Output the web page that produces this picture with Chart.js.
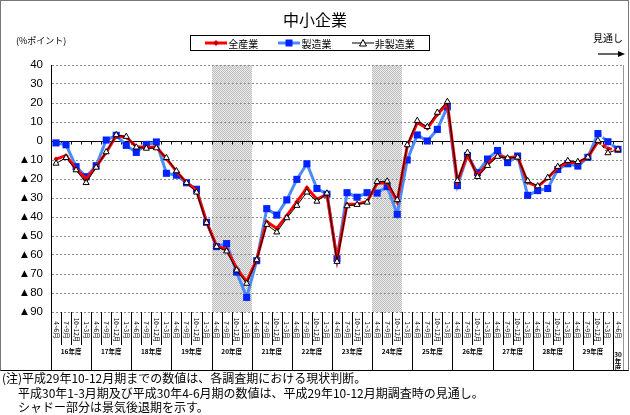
<!DOCTYPE html>
<html>
<head>
<meta charset="utf-8">
<script src="https://cdn.jsdelivr.net/npm/chart.js@4"></script>
<style>
  body { margin: 0; background: #fff; font-family: 'Noto Sans CJK JP', sans-serif; }
  #wrap { position: relative; width: 630px; height: 415px; }
  #frame { position: absolute; left: 0; top: 0; width: 627px; height: 369px; border: 1px solid #777; border-bottom-color: #000; pointer-events: none; }
  #myChart { position: absolute; left: 0; top: 0; }
  .txt { position: absolute; white-space: nowrap; color: #000; }
  #title { left: 0; width: 630px; text-align: center; top: 7px; font-size: 16px; }
  #unit { left: 16px; top: 34px; font-size: 9px; }
  #outlook { left: 593px; top: 30px; font-size: 10px; }
  #legend { position: absolute; left: 190px; top: 35px; width: 240px; height: 16px; border: 1px solid #000; font-size: 10px; display: flex; align-items: center; justify-content: space-around; padding: 0 4px; box-sizing: border-box; }
  #legend span { display: flex; align-items: center; }
  #legend svg { margin-right: 1px; }
  #notes { left: 2px; top: 371px; font-size: 12px; line-height: 14.5px; }
  #notes div.ind { padding-left: 16px; }
</style>
</head>
<body>
<div id="wrap">
  <canvas id="myChart" width="630" height="370"></canvas>
  <div id="frame"></div>
  <div class="txt" id="title">中小企業</div>
  <div class="txt" id="unit">(%ポイント)</div>
  <div class="txt" id="outlook">見通し</div>
  <svg style="position:absolute;left:598px;top:50px" width="28" height="8">
    <line x1="0" y1="4" x2="22" y2="4" stroke="#000" stroke-width="1.2"/>
    <polygon points="27,4 20,1 20,7" fill="#000"/>
  </svg>
  <div id="legend">
    <span><svg width="22" height="8"><line x1="0" y1="4" x2="22" y2="4" stroke="#f00" stroke-width="3"/><polygon points="11,1 14,4 11,7 8,4" fill="#c00"/></svg>全産業</span>
    <span><svg width="22" height="8"><line x1="0" y1="4" x2="22" y2="4" stroke="#4a8cf7" stroke-width="3"/><rect x="7.5" y="0.5" width="7" height="7" fill="#0022ff"/></svg>製造業</span>
    <span><svg width="22" height="8"><line x1="0" y1="4" x2="22" y2="4" stroke="#000" stroke-width="1"/><polygon points="11,0.5 14.5,7 7.5,7" fill="#fff" stroke="#000"/></svg>非製造業</span>
  </div>
  <div class="txt" id="notes">
    <div>(注)平成29年10-12月期までの数値は、各調査期における現状判断。</div>
    <div class="ind">平成30年1-3月期及び平成30年4-6月期の数値は、平成29年10-12月期調査時の見通し。</div>
    <div class="ind">シャドー部分は景気後退期を示す。</div>
  </div>
</div>

<script>
// Categories
const fiscalYears = ['16年度', '17年度', '18年度', '19年度', '20年度', '21年度', '22年度',
  '23年度', '24年度', '25年度', '26年度', '27年度', '28年度', '29年度', '30年度'];
const quarters = ['4~6月', '7~9月', '10~12月', '1~3月'];

const labels = [];
fiscalYears.forEach((y, j) => {
  const n = j === fiscalYears.length - 1 ? 1 : 4;   // 30年度 only 4-6月
  for (let q = 0; q < n; q++) labels.push(quarters[q]);
});

// Series (%ポイント)
const allIndustry = [-9.5, -7.7, -14.7, -20, -13.5, -6, 2.8, 2, -3, -3.3, -3.2, -9.3, -16, -21.8,
  -26, -42.5, -55.3, -57, -67, -74, -62.3, -42.5, -46, -39.3, -32, -24.6, -30.7, -28,
  -62.3, -33.3, -33.2, -32, -22.3, -22, -31.8, -2.6, 9.6, 6.7, 14, 19.8, -21.4, -7,
  -18.4, -12, -7.7, -8.8, -8.2, -21.8, -24, -19.6, -13.9, -11.2, -11.4, -8.6, -0.4, -3.9, -5.1];
const manufacturing = [-1, -2, -13.5, -18.8, -13, 0.5, 3, -2.3, -6, -1.8, -0.5, -17, -18, -22,
  -25.4, -42.8, -55.6, -54, -69, -82.3, -63, -35.6, -39, -31, -20.2, -12, -25, -28,
  -62, -27.2, -29.6, -27.2, -27.4, -24, -38.6, -10, 3.2, 0, 6.1, 18, -23.5, -7.7,
  -16.7, -9.5, -5, -11.4, -7.9, -28.6, -26.1, -25, -15, -12, -13.2, -8.6, 3.9, -0.4, -4.4];
const nonManufacturing = [-11.8, -8.8, -15.3, -22, -13.9, -5.8, 3.2, 2.3, -3.3, -3.9, -3.7, -8.8, -15.8, -22,
  -27, -43, -55.6, -58, -68, -75, -62.6, -44, -48, -40.5, -34, -27, -31.8, -27.5,
  -63.5, -34.2, -33.5, -32.3, -21.4, -21.2, -31, -2.1, 10.7, 7.5, 15, 20.7, -20.9, -6.1,
  -18.8, -13, -8.2, -9, -8.6, -21, -23.7, -19.3, -13.5, -10.4, -10.9, -8.6, 0.2, -6.3, -4.4];

// Recession shading (first and last category index)
const recessions = [[16, 19], [32, 34]];
// First forecast point (平成30年1-3月期)
const forecastFrom = 55;

const yMin = -90, yMax = 40, yStep = 10;

// dashed line for forecast part
const forecastDash = ctx => ctx.p1DataIndex >= forecastFrom ? [4, 2] : undefined;

function shadePattern(ctx) {
  const c = document.createElement('canvas');
  c.width = 2; c.height = 2;
  const p = c.getContext('2d');
  p.fillStyle = '#ececec'; p.fillRect(0, 0, 2, 2);
  p.fillStyle = '#bdbdbd'; p.fillRect(0, 0, 1, 1); p.fillRect(1, 1, 1, 1);
  return ctx.createPattern(c, 'repeat');
}

const crisp = v => Math.round(v) + 0.5;

const decorations = {
  id: 'decorations',
  beforeDraw(chart) {
    const { ctx, chartArea: a, scales: { x } } = chart;
    const w = x.getPixelForValue(1) - x.getPixelForValue(0);
    ctx.save();
    ctx.fillStyle = shadePattern(ctx);
    recessions.forEach(([s, e]) => {
      const x1 = Math.round(x.getPixelForValue(s) - w / 2);
      const x2 = Math.round(x.getPixelForValue(e) + w / 2);
      ctx.fillRect(x1, a.top, x2 - x1, a.bottom - a.top);
    });
    ctx.restore();
  },
  beforeDatasetsDraw(chart) {
    const { ctx, chartArea: a, scales: { x, y } } = chart;
    const w = x.getPixelForValue(1) - x.getPixelForValue(0);
    const y0 = crisp(y.getPixelForValue(0));
    ctx.save();
    ctx.strokeStyle = '#000';
    ctx.lineWidth = 1;
    ctx.beginPath();
    ctx.moveTo(a.left, y0);
    ctx.lineTo(a.right, y0);
    for (let i = 1; i < labels.length; i++) {
      const xb = crisp(x.getPixelForValue(i) - w / 2);
      ctx.moveTo(xb, y0);
      ctx.lineTo(xb, y0 + 3);
    }
    ctx.stroke();
    ctx.restore();
  },
  afterDraw(chart) {
    const { ctx, chartArea: a, scales: { x } } = chart;
    const w = x.getPixelForValue(1) - x.getPixelForValue(0);
    const frameBottom = chart.height;
    ctx.save();
    ctx.lineWidth = 1;
    ctx.strokeStyle = '#000';
    ctx.beginPath();
    // left axis runs down through the label area
    ctx.moveTo(crisp(a.left - 0.5), a.top);
    ctx.lineTo(crisp(a.left - 0.5), frameBottom);
    for (let i = 1; i < labels.length; i++) {
      const xb = crisp(x.getPixelForValue(i) - w / 2);
      const yearEdge = labels[i] === quarters[0];
      ctx.moveTo(xb, a.bottom);
      ctx.lineTo(xb, yearEdge ? frameBottom : a.bottom + 33);
    }
    ctx.stroke();
    // right edge
    ctx.strokeStyle = '#999';
    ctx.beginPath();
    ctx.moveTo(crisp(a.right), a.top);
    ctx.lineTo(crisp(a.right), frameBottom);
    ctx.stroke();

    // quarter labels (vertical)
    ctx.fillStyle = '#000';
    ctx.font = "6.5px 'Noto Sans CJK JP'";
    ctx.textAlign = 'center';
    ctx.textBaseline = 'middle';
    labels.forEach((lab, i) => {
      ctx.save();
      ctx.translate(x.getPixelForValue(i), a.bottom + 18);
      ctx.rotate(Math.PI / 2);
      ctx.fillText(lab, 0, 0);
      ctx.restore();
    });

    // fiscal year labels
    ctx.font = "bold 6.5px 'Noto Sans CJK JP'";
    let k = 0;
    fiscalYears.forEach((yr, j) => {
      const n = j === fiscalYears.length - 1 ? 1 : 4;
      const first = k, last = k + n - 1;
      k += n;
      const cx = (x.getPixelForValue(first) + x.getPixelForValue(last)) / 2;
      if (n === 1) {
        // narrow column: stack the label
        ctx.fillText(yr.slice(0, 2), cx, a.bottom + 43);
        ctx.fillText(yr.slice(2, 3), cx, a.bottom + 50);
        ctx.fillText(yr.slice(3), cx, a.bottom + 57);
      } else {
        ctx.fillText(yr, cx, a.bottom + 40);
      }
    });
    ctx.restore();
  }
};

const data = {
  labels: labels,
  datasets: [{
    label: '全産業',
    data: allIndustry,
    borderColor: '#ff0000',
    backgroundColor: '#cc0000',
    borderWidth: 3,
    pointStyle: 'rectRot',
    pointRadius: 2.5,
    pointBorderWidth: 0,
    segment: { borderDash: forecastDash },
    order: 1
  }, {
    label: '製造業',
    data: manufacturing,
    borderColor: '#4a8cf7',
    backgroundColor: '#0022ff',
    pointBorderColor: '#0022ff',
    borderWidth: 3,
    pointStyle: 'rect',
    pointRadius: 5,
    pointBorderWidth: 0,
    segment: { borderDash: forecastDash },
    order: 2
  }, {
    label: '非製造業',
    data: nonManufacturing,
    borderColor: '#000000',
    backgroundColor: '#ffffff',
    pointBorderColor: '#000000',
    borderWidth: 1,
    pointStyle: 'triangle',
    pointRadius: 3.5,
    pointBorderWidth: 1,
    segment: { borderDash: forecastDash },
    order: 0
  }]
};

const config = {
  type: 'line',
  data: data,
  plugins: [decorations],
  options: {
    responsive: false,
    animation: false,
    layout: { padding: { left: 0, right: 7, top: 65, bottom: 58 } },
    plugins: {
      legend: { display: false },
      tooltip: { enabled: false }
    },
    elements: { line: { tension: 0 } },
    scales: {
      x: {
        display: false,
        offset: true
      },
      y: {
        min: yMin,
        max: yMax,
        afterFit: scale => { scale.width = 51; },
        grid: {
          color: ctx => ctx.tick && ctx.tick.value === 0 ? 'rgba(0,0,0,0)' : '#8c8c8c',
          drawTicks: false,
          lineWidth: 1
        },
        border: { display: true, color: '#000', width: 1, dash: [2, 2] },
        ticks: {
          stepSize: yStep,
          padding: 8,
          color: '#000',
          font: { family: "'Liberation Sans', 'DejaVu Sans'", size: 11.5 },
          callback: v => v < 0 ? '▲' + (-v) : String(v)
        }
      }
    }
  }
};

const myChart = new Chart(document.getElementById('myChart'), config);
</script>
</body>
</html>
